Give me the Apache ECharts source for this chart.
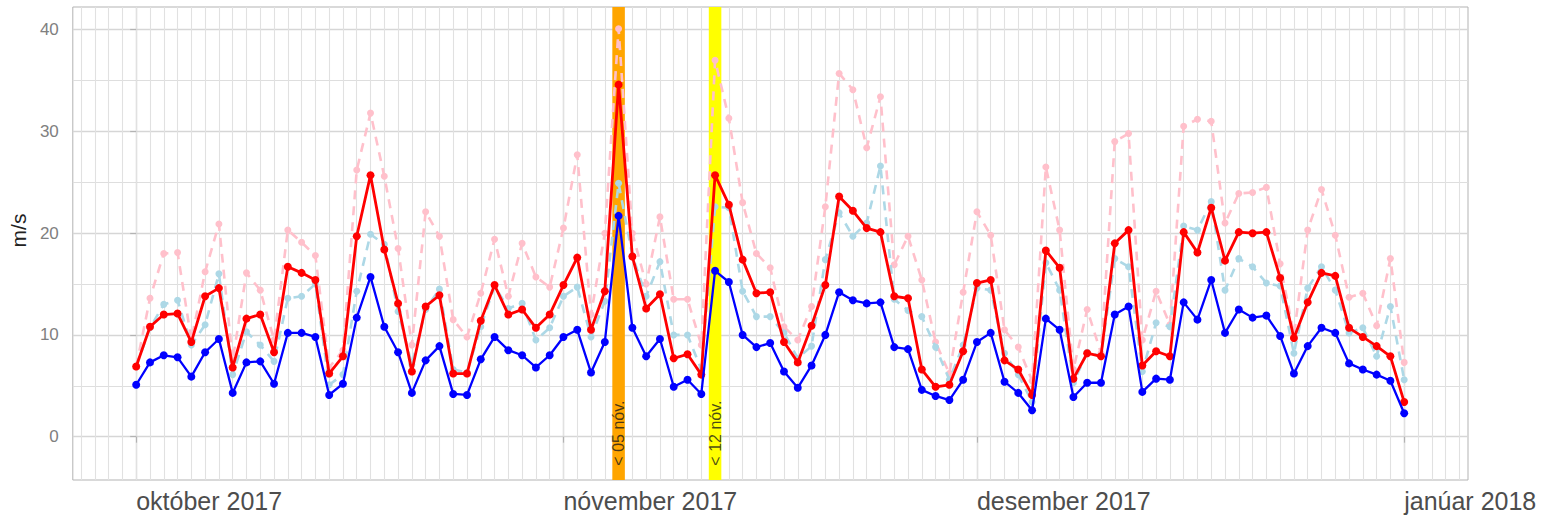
<!DOCTYPE html>
<html><head><meta charset="utf-8">
<script src="https://cdn.jsdelivr.net/npm/echarts@6/dist/echarts.min.js"></script>
<style>html,body{margin:0;padding:0;background:#fff}#c{width:1543px;height:520px}</style>
</head><body><div id="c"></div>
<script>
// x values are day indices counted from 1 Oct 2017
const monthTicks = [0, 31, 61, 92];
const monthLabels = ['október 2017', 'nóvember 2017', 'desember 2017', 'janúar 2018'];
const yTicks = [0, 10, 20, 30, 40];
const yMinorTicks = [5, 15, 25, 35];
const eventDays = [35, 42];
const eventLabels = ['< 05 nóv.', '< 12 nóv.'];
const eventColors = ['#FFA500', '#FFFF00'];

const blue = [5.1,7.3,8.0,7.8,5.9,8.3,9.6,4.3,7.3,7.4,5.2,10.2,10.2,9.8,4.1,5.2,11.7,15.7,10.8,8.3,4.3,7.5,8.9,4.2,4.1,7.6,9.8,8.5,8.0,6.8,8.0,9.8,10.5,6.3,9.3,21.7,10.7,7.9,9.6,4.9,5.6,4.2,16.3,15.2,10.0,8.8,9.2,6.4,4.8,7.0,10.0,14.2,13.4,13.1,13.2,8.8,8.6,4.6,4.0,3.6,5.6,9.3,10.2,5.4,4.3,2.6,11.6,10.5,3.9,5.3,5.3,12.0,12.8,4.4,5.7,5.6,13.2,11.5,15.4,10.2,12.5,11.7,11.9,9.9,6.2,8.9,10.7,10.2,7.2,6.6,6.1,5.5,2.3];
const red = [6.9,10.8,12.0,12.1,9.3,13.8,14.6,6.8,11.6,12.0,8.3,16.7,16.1,15.4,6.2,7.9,19.7,25.7,18.4,13.1,6.4,12.8,13.9,6.2,6.2,11.4,14.9,12.0,12.5,10.7,12.0,14.9,17.6,10.5,14.3,34.6,17.7,12.6,14.0,7.7,8.1,6.1,25.7,22.8,17.4,14.1,14.2,9.3,7.3,10.9,14.9,23.6,22.2,20.5,20.1,13.8,13.6,6.6,4.9,5.1,8.4,15.1,15.4,7.5,6.6,4.1,18.3,16.6,5.7,8.2,7.9,19.0,20.3,7.0,8.4,7.9,20.1,18.1,22.5,17.3,20.1,20.0,20.1,15.6,9.7,13.2,16.1,15.8,10.7,9.8,8.9,7.9,3.4];
const lightblue = [6.9,10.7,13.0,13.4,9.0,11.0,16.0,6.1,10.3,9.0,7.4,13.6,13.8,15.0,5.1,6.1,14.3,19.9,18.9,12.3,7.1,12.5,14.5,6.6,6.3,10.8,14.8,12.6,13.1,9.5,10.7,13.8,14.7,9.8,13.3,24.9,17.8,13.8,17.2,10.0,10.0,6.6,22.6,22.5,14.3,11.8,11.8,10.2,7.7,8.9,17.4,22.0,19.7,21.0,26.6,13.5,12.4,11.8,8.8,5.6,9.0,14.6,14.4,8.2,6.1,3.4,17.1,14.4,5.3,8.3,7.9,17.5,16.7,6.4,11.2,10.8,20.7,20.3,23.1,14.4,17.5,16.7,15.1,14.8,8.2,14.6,16.7,14.4,10.2,10.7,7.9,12.8,5.6];
const pink = [6.9,13.6,18.0,18.1,9.5,16.2,20.9,7.5,16.1,14.4,9.5,20.3,19.1,17.8,6.8,8.5,26.2,31.8,25.6,18.5,9.0,22.1,19.7,11.5,9.8,14.1,19.4,13.8,19.0,15.7,14.7,20.5,27.7,12.0,20.0,40.1,20.0,15.0,21.6,13.5,13.5,9.0,37.0,31.3,23.0,18.0,16.6,10.8,9.5,12.8,22.6,35.7,34.1,28.4,33.4,16.9,19.7,15.4,9.3,6.2,14.2,22.1,19.8,10.5,8.8,5.5,26.5,20.3,6.6,12.5,8.2,29.0,29.8,9.5,14.3,11.0,30.5,31.2,31.0,21.0,23.9,24.0,24.5,17.0,10.0,20.3,24.3,19.8,13.7,14.1,10.9,17.5,7.3];

const withDay = arr => arr.map((v, i) => [i, v]);
const dailyGrid = [];
for (let d = -4; d <= 96; d++) dailyGrid.push(d);

const FONT = '"Liberation Sans", Arial, sans-serif';
const X_MIN = -4.6, X_MAX = 96.63, Y_MIN = -4.26, Y_MAX = 42.23;

const lineSeries = (name, data, color, width, dashed, size, z) => ({
  type: 'line', name, data: withDay(data), z, silent: true,
  symbol: 'circle', symbolSize: size, showSymbol: true,
  lineStyle: { color, width, type: dashed ? [9, 7] : 'solid' },
  itemStyle: { color }
});

const chart = echarts.init(document.getElementById('c'), null, { renderer: 'svg' });
chart.setOption({
  animation: false,
  backgroundColor: '#ffffff',
  textStyle: { fontFamily: FONT },
  grid: { left: 67, right: 75, top: 7, bottom: 40, show: true, borderColor: '#b3b3b3', borderWidth: 1, backgroundColor: 'transparent' },
  xAxis: [
    {
      type: 'value', min: X_MIN, max: X_MAX,
      axisLine: { show: false },
      axisTick: { show: true, customValues: monthTicks, length: 6, lineStyle: { color: '#b3b3b3', width: 1.2 } },
      axisLabel: { customValues: monthTicks, align: 'left', margin: 8, fontSize: 25, color: '#4d4d4d', fontFamily: FONT,
        formatter: v => monthLabels[monthTicks.indexOf(v)] },
      splitLine: { show: true, lineStyle: { color: '#d2d2d2', width: 1.4 } }
    },
    {
      type: 'value', min: X_MIN, max: X_MAX, position: 'bottom',
      axisLine: { show: false },
      axisTick: { show: false, customValues: dailyGrid },
      axisLabel: { show: false, customValues: dailyGrid },
      splitLine: { show: true, lineStyle: { color: '#e1e1e1', width: 1.1 } }
    }
  ],
  yAxis: [
    {
      type: 'value', min: Y_MIN, max: Y_MAX,
      name: 'm/s', nameLocation: 'middle', nameGap: 40,
      nameTextStyle: { fontSize: 21, color: '#222222', fontFamily: FONT, padding: [0, 0, 0, 26] },
      axisLine: { show: false },
      axisTick: { show: true, customValues: yTicks, length: 6, lineStyle: { color: '#b3b3b3', width: 1.2 } },
      axisLabel: { customValues: yTicks, margin: 14, fontSize: 17, color: '#808080', fontFamily: FONT },
      splitLine: { show: true, lineStyle: { color: '#d6d6d6', width: 1.4 } }
    },
    {
      type: 'value', min: Y_MIN, max: Y_MAX, position: 'left',
      axisLine: { show: false },
      axisTick: { show: false, customValues: yMinorTicks },
      axisLabel: { show: false, customValues: yMinorTicks },
      splitLine: { show: true, lineStyle: { color: '#dedede', width: 1.2 } }
    }
  ],
  series: [
    {
      type: 'line', name: 'bands', data: [], z: 1, silent: true,
      markArea: {
        silent: true,
        data: eventDays.map((d, i) => [
          { xAxis: d - 0.455, itemStyle: { color: eventColors[i], opacity: 1 } },
          { xAxis: d + 0.455 }
        ])
      }
    },
    lineSeries('pink', pink, '#FFC0CB', 2.6, true, 7, 3),
    lineSeries('lightblue', lightblue, '#ADD8E6', 2.6, true, 7, 4),
    lineSeries('red', red, '#FF0000', 2.8, false, 8, 5),
    lineSeries('blue', blue, '#0000FF', 2.3, false, 8, 6),
    {
      type: 'scatter', name: 'events', z: 7, silent: true, symbolSize: 0,
      data: eventDays.map((d, i) => ({ value: [d, -2.85], name: eventLabels[i] })),
      label: { show: true, position: [0, 0], rotate: 90, align: 'left', verticalAlign: 'middle',
        formatter: p => p.name, fontSize: 16, color: '#1a1a1a', fontFamily: FONT }
    }
  ]
});
</script></body></html>
